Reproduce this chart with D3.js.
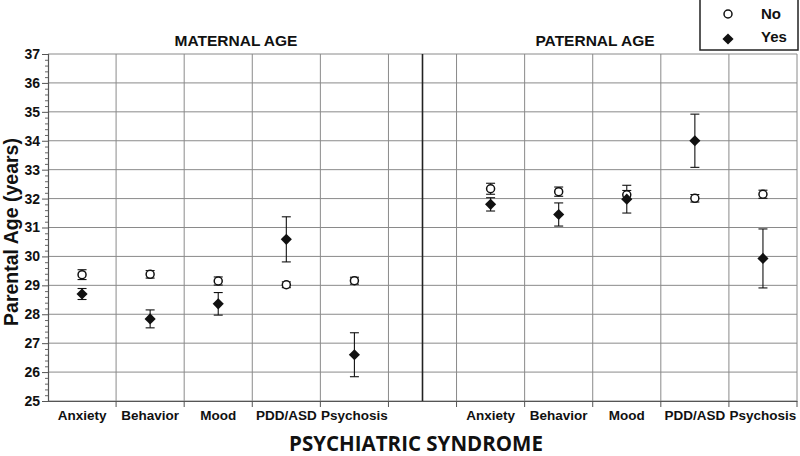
<!DOCTYPE html>
<html>
<head>
<meta charset="utf-8">
<script src="https://cdn.jsdelivr.net/npm/d3@7"></script>
<style>
  body { margin: 0; background: #fff; }
  svg { display: block; }
  text { font-family: "Liberation Sans", Arial, Helvetica, sans-serif; fill: #111; }
</style>
</head>
<body>
<svg id="chart" width="800" height="456"></svg>
<script>
const categories = ["Anxiety", "Behavior", "Mood", "PDD/ASD", "Psychosis"];
const groups = ["MATERNAL AGE", "PATERNAL AGE"];
const yTicks = [25, 26, 27, 28, 29, 30, 31, 32, 33, 34, 35, 36, 37];

const maternalNo     = [29.37, 29.38, 29.15, 29.02, 29.16];
const maternalNoErr  = [0.17, 0.13, 0.14, 0.10, 0.12];
const maternalYes    = [28.70, 27.84, 28.36, 30.59, 26.60];
const maternalYesErr = [0.19, 0.31, 0.39, 0.78, 0.76];

const paternalNo     = [32.34, 32.24, 32.13, 32.01, 32.15];
const paternalNoErr  = [0.19, 0.16, 0.15, 0.13, 0.14];
const paternalYes    = [31.80, 31.45, 31.98, 34.00, 29.93];
const paternalYesErr = [0.23, 0.40, 0.48, 0.92, 1.02];

// slot keys: 5 maternal, one gap, 5 paternal
const slots = [...categories.map(c => "M|" + c), "gap", ...categories.map(c => "P|" + c)];

const rows = [];
categories.forEach((c, i) => {
  rows.push({ key: "M|" + c, series: "No",  v: maternalNo[i],  e: maternalNoErr[i] });
  rows.push({ key: "M|" + c, series: "Yes", v: maternalYes[i], e: maternalYesErr[i] });
  rows.push({ key: "P|" + c, series: "No",  v: paternalNo[i],  e: paternalNoErr[i] });
  rows.push({ key: "P|" + c, series: "Yes", v: paternalYes[i], e: paternalYesErr[i] });
});

const svg = d3.select("#chart");
const L = 48, R = 797, T = 54, B = 401;

const x = d3.scaleBand().domain(slots).range([L, R]).padding(0);
const y = d3.scaleLinear().domain([25, 37]).range([B, T]);
const cx = k => x(k) + x.bandwidth() / 2;

const gridColor = "#8a8a8a";

// horizontal gridlines
svg.append("g").selectAll("line").data(yTicks).join("line")
  .attr("x1", L).attr("x2", R)
  .attr("y1", d => y(d)).attr("y2", d => y(d))
  .attr("stroke", gridColor).attr("stroke-width", 1);

// vertical gridlines at slot boundaries
const bounds = slots.slice(1).map(s => x(s)).concat([R]);
svg.append("g").selectAll("line").data(bounds).join("line")
  .attr("x1", d => d).attr("x2", d => d)
  .attr("y1", T).attr("y2", B)
  .attr("stroke", gridColor).attr("stroke-width", 1);

// divider between maternal and paternal
svg.append("line")
  .attr("x1", cx("gap")).attr("x2", cx("gap"))
  .attr("y1", T).attr("y2", B)
  .attr("stroke", "#222").attr("stroke-width", 1.6);

// y axis
const yAxis = d3.axisLeft(y).tickValues(yTicks).tickSize(6).tickPadding(2);
const gy = svg.append("g").attr("transform", `translate(${L},0)`).call(yAxis);
gy.select(".domain").attr("stroke", "#555").attr("stroke-width", 1.2);
gy.selectAll(".tick line").attr("stroke", "#555");
gy.selectAll(".tick text")
  .style("font-size", "14px").style("font-weight", "bold")
  .style("font-family", "'Liberation Sans', Arial, sans-serif").attr("fill", "#111");

// minor y ticks
const minor = d3.range(25, 37.001, 0.2).filter(v => Math.abs(v - Math.round(v)) > 0.01);
const gym = svg.append("g").attr("transform", `translate(${L},0)`)
  .call(d3.axisLeft(y).tickValues(minor).tickSize(3).tickFormat(""));
gym.select(".domain").remove();
gym.selectAll(".tick line").attr("stroke", "#666");

// x axis
const xAxis = d3.axisBottom(x).tickSize(0).tickPadding(9)
  .tickFormat(d => d === "gap" ? "" : d.split("|")[1]);
const gx = svg.append("g").attr("transform", `translate(0,${B})`).call(xAxis);
gx.select(".domain").attr("stroke", "#555").attr("stroke-width", 1.2);
gx.selectAll(".tick text")
  .style("font-size", "13.5px").style("font-weight", "bold")
  .style("font-family", "'Liberation Sans', Arial, sans-serif").attr("fill", "#111");
// boundary ticks pointing down
svg.append("g").selectAll("line").data(bounds).join("line")
  .attr("x1", d => d).attr("x2", d => d)
  .attr("y1", B).attr("y2", B + 6)
  .attr("stroke", "#555");

// group titles
const titleX = [236, 595];
svg.append("g").selectAll("text").data(groups).join("text")
  .attr("x", (d, i) => titleX[i]).attr("y", 46)
  .attr("text-anchor", "middle")
  .style("font-size", "15.5px").style("font-weight", "bold")
  .text(d => d);

// axis titles
svg.append("text")
  .attr("transform", `translate(18,232) rotate(-90)`)
  .attr("text-anchor", "middle")
  .style("font-size", "19.5px").style("font-weight", "bold")
  .text("Parental Age (years)");

svg.append("text")
  .attr("x", 416).attr("y", 451)
  .attr("text-anchor", "middle")
  .style("font-size", "20.5px").style("font-weight", "bold")
  .style("font-family", "'Liberation Sans Narrow', 'Open Sans', Arial, sans-serif")
  .text("PSYCHIATRIC SYNDROME");

// error bars
const capW = 4.5;
const eb = svg.append("g").selectAll("g").data(rows).join("g").attr("stroke", "#111").attr("stroke-width", 1.1);
eb.append("line")
  .attr("x1", d => cx(d.key)).attr("x2", d => cx(d.key))
  .attr("y1", d => y(d.v + d.e)).attr("y2", d => y(d.v - d.e));
eb.append("line")
  .attr("x1", d => cx(d.key) - capW).attr("x2", d => cx(d.key) + capW)
  .attr("y1", d => y(d.v + d.e)).attr("y2", d => y(d.v + d.e));
eb.append("line")
  .attr("x1", d => cx(d.key) - capW).attr("x2", d => cx(d.key) + capW)
  .attr("y1", d => y(d.v - d.e)).attr("y2", d => y(d.v - d.e));

// No markers (open circles)
svg.append("g").selectAll("circle").data(rows.filter(d => d.series === "No")).join("circle")
  .attr("cx", d => cx(d.key)).attr("cy", d => y(d.v)).attr("r", 4)
  .attr("fill", "#fff").attr("stroke", "#111").attr("stroke-width", 1.5);

// Yes markers (filled diamonds)
svg.append("g").selectAll("path").data(rows.filter(d => d.series === "Yes")).join("path")
  .attr("d", d3.symbol().type(d3.symbolSquare).size(62))
  .attr("transform", d => `translate(${cx(d.key)},${y(d.v)}) rotate(45)`)
  .attr("fill", "#111");

// legend
const lg = svg.append("g");
lg.append("rect").attr("x", 700).attr("y", -2).attr("width", 98).attr("height", 52)
  .attr("fill", "#fff").attr("stroke", "#222").attr("stroke-width", 1.5);
lg.append("circle").attr("cx", 728).attr("cy", 14).attr("r", 4)
  .attr("fill", "#fff").attr("stroke", "#111").attr("stroke-width", 1.5);
lg.append("path").attr("d", d3.symbol().type(d3.symbolSquare).size(62))
  .attr("transform", "translate(728,39) rotate(45)").attr("fill", "#111");
lg.append("text").attr("x", 761).attr("y", 19)
  .style("font-size", "15px").style("font-weight", "bold").text("No");
lg.append("text").attr("x", 761).attr("y", 42)
  .style("font-size", "15px").style("font-weight", "bold").text("Yes");
</script>
</body>
</html>
